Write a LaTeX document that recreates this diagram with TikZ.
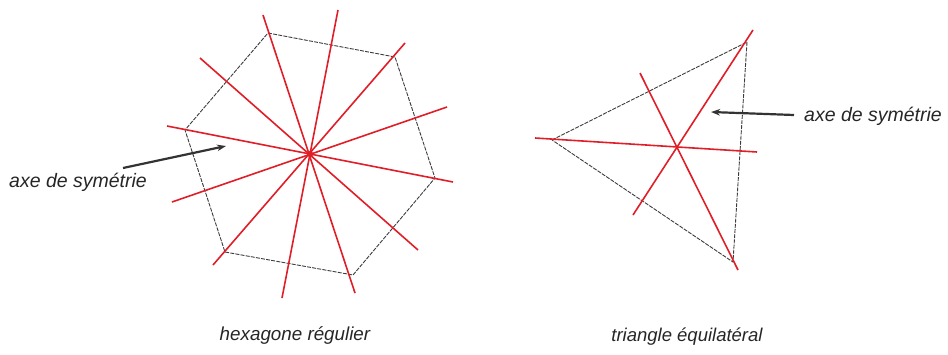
\documentclass[tikz,border=0pt]{standalone}
\usepackage{fontspec}
\setmainfont{Liberation Sans}
\usetikzlibrary{arrows.meta}
\definecolor{axred}{RGB}{224,30,40}
\definecolor{edgegray}{RGB}{60,60,60}
\begin{document}
\begin{tikzpicture}[x=1pt,y=-1pt,
  edge/.style={draw=edgegray, line width=0.9pt, dash pattern=on 4pt off 1.2pt},
  axis/.style={draw=axred, line width=1.6pt},
  pointer/.style={draw=black!80, line width=2.2pt, -{Stealth[length=9pt,width=6.5pt]}},
  lbl/.style={inner sep=0pt, text=black!85}]
\useasboundingbox (0,0) rectangle (948,354);
% hexagon
\coordinate (h1) at (268,33);
\coordinate (h2) at (395,57);
\coordinate (h3) at (435,178);
\coordinate (h4) at (353,275);
\coordinate (h5) at (225,252);
\coordinate (h6) at (185,130);
\draw[edge] (h1) -- (h2) -- (h3) -- (h4) -- (h5) -- (h6) -- cycle;
% axes of the hexagon
\coordinate (a1s) at (263,15);  \coordinate (a1e) at (355,293);
\coordinate (a2s) at (338,10);  \coordinate (a2e) at (282,298);
\coordinate (a3s) at (405,43);  \coordinate (a3e) at (213,265);
\coordinate (a4s) at (447,107); \coordinate (a4e) at (172,202);
\coordinate (a5s) at (453,182); \coordinate (a5e) at (167,126);
\coordinate (a6s) at (418,250); \coordinate (a6e) at (200,58);
\foreach \i in {1,...,6} \draw[axis] (a\i s) -- (a\i e);
\fill[axred] (310,154) circle (3.2pt);
% triangle
\coordinate (t1) at (552,140);
\coordinate (t2) at (747,42);
\coordinate (t3) at (733,262);
\draw[edge] (t1) -- (t2) -- (t3) -- cycle;
\coordinate (b1s) at (535,138); \coordinate (b1e) at (757,152);
\coordinate (b2s) at (753,30);  \coordinate (b2e) at (633,215);
\coordinate (b3s) at (640,73);  \coordinate (b3e) at (738,270);
\foreach \i in {1,2,3} \draw[axis] (b\i s) -- (b\i e);
% labels
\node[lbl, anchor=base west, font=\fontsize{19.5}{22}\selectfont\itshape] (labL) at (9,187) {axe de symétrie};
\node[lbl, anchor=base west, font=\fontsize{19.5}{22}\selectfont\itshape] (labR) at (804,121) {axe de symétrie};
\node[lbl, anchor=base, font=\fontsize{18.8}{22}\selectfont\itshape] (capH) at (295,340) {hexagone régulier};
\node[lbl, anchor=base, font=\fontsize{18.5}{22}\selectfont\itshape] (capT) at (687,341) {triangle équilatéral};
% pointers
\coordinate (pL) at (226,146);
\coordinate (pLs) at (123,168);
\draw[pointer] (pLs) -- (pL);
\coordinate (pR) at (711,112);
\coordinate (pRs) at (794,115);
\draw[pointer] (pRs) -- (pR);
\end{tikzpicture}
\end{document}
